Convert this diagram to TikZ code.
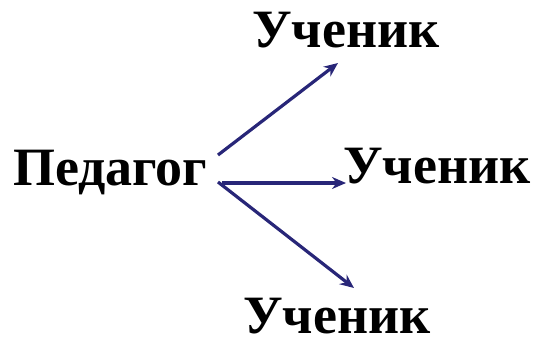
\documentclass[tikz,border=0pt]{standalone}
\usepackage{fontspec}
\setmainfont{Liberation Serif}
\usetikzlibrary{arrows.meta}
\definecolor{navy}{RGB}{40,38,120}
\tikzset{
  word/.style={font=\fontsize{54}{60}\selectfont\bfseries, inner sep=0pt, anchor=base west, text depth=0pt},
  link/.style={draw=navy, line width=3.2pt, -{Stealth[length=14pt,width=12pt]}}
}
\begin{document}
\begin{tikzpicture}[x=1pt,y=-1pt]
\useasboundingbox (0,0) rectangle (537,340);
\node[word] (ped) at (13,185) {Педагог};
\node[word] (u1) at (252,47) {Ученик};
\node[word] (u2) at (343,183) {Ученик};
\node[word] (u3) at (243,333) {Ученик};
\coordinate (s1) at (218,155);
\coordinate (s2) at (222,183);
\coordinate (s3) at (218,182);
\coordinate (t1) at (338,63);
\coordinate (t2) at (346,183);
\coordinate (t3) at (354,288);
\draw[link] (s1) -- (t1);
\draw[link] (s2) -- (t2);
\draw[link] (s3) -- (t3);
\end{tikzpicture}
\end{document}
